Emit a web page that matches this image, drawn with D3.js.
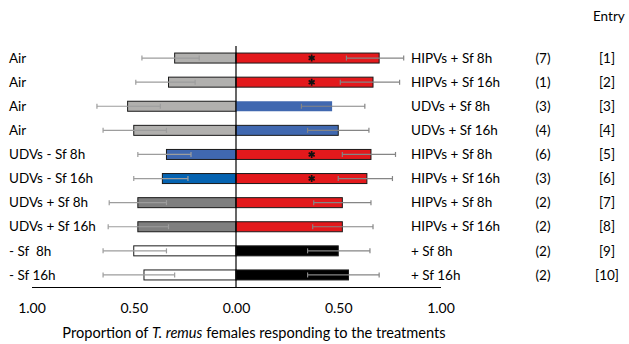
<!DOCTYPE html>
<html>
<head>
<meta charset="utf-8">
<script src="https://cdn.jsdelivr.net/npm/d3@7"></script>
<style>
  html, body { margin: 0; padding: 0; background: #fff; }
  svg { display: block; }
  text { font-family: Lato, "Open Sans", sans-serif; fill: #000; white-space: pre; }
</style>
</head>
<body>
<svg id="chart" width="629" height="344"></svg>
<script>
// Treatments paired in each two-choice test
const entries = ["[1]", "[2]", "[3]", "[4]", "[5]", "[6]", "[7]", "[8]", "[9]", "[10]"];
const leftLabels = ["Air", "Air", "Air", "Air", "UDVs - Sf 8h", "UDVs - Sf 16h",
                    "UDVs + Sf 8h", "UDVs + Sf 16h", "- Sf  8h", "- Sf 16h"];
const rightLabels = ["HIPVs + Sf 8h", "HIPVs + Sf 16h", "UDVs + Sf 8h", "UDVs + Sf 16h",
                     "HIPVs + Sf 8h", "HIPVs + Sf 16h", "HIPVs + Sf 8h", "HIPVs + Sf 16h",
                     "+ Sf 8h", "+ Sf 16h"];
const replicates = ["(7)", "(1)", "(3)", "(4)", "(6)", "(3)", "(2)", "(2)", "(2)", "(2)"];

// Proportion of females choosing each side
const leftValues  = [0.30, 0.33, 0.53, 0.50, 0.34, 0.36, 0.48, 0.48, 0.50, 0.45];
const rightValues = [0.70, 0.67, 0.47, 0.50, 0.66, 0.64, 0.52, 0.52, 0.50, 0.55];

// Confidence limits for each side
const leftLow   = [0.18, 0.20, 0.37, 0.34, 0.22, 0.235, 0.34, 0.33, 0.34, 0.30];
const leftHigh  = [0.46, 0.49, 0.68, 0.65, 0.48, 0.50, 0.62, 0.625, 0.65, 0.65];
const rightLow  = [0.54, 0.51, 0.32, 0.35, 0.52, 0.50, 0.38, 0.375, 0.35, 0.35];
const rightHigh = [0.82, 0.80, 0.63, 0.65, 0.78, 0.765, 0.66, 0.67, 0.655, 0.70];

// Significant preference
const significant = [true, true, false, false, true, true, false, false, false, false];

// Fill per side
const leftFill  = ["#b1b0ae", "#b1b0ae", "#b1b0ae", "#b1b0ae", "#4068b0", "#0563b1",
                   "#7f7f7f", "#7f7f7f", "#ffffff", "#ffffff"];
const rightFill = ["#e3191c", "#e3191c", "#4068b0", "#4068b0", "#e3191c", "#e3191c",
                   "#e3191c", "#e3191c", "#000000", "#000000"];
const rightStroke = [true, true, false, true, true, true, true, true, true, true];

const tickValues = [-1, -0.5, 0, 0.5, 1];
const axisTitle = "Proportion of ";

const svg = d3.select("#chart");
const width = 629, height = 344;
svg.append("rect").attr("width", width).attr("height", height).attr("fill", "#fff");

const x = d3.scaleLinear().domain([-1, 1]).range([31.5, 440.5]);
const y = d3.scaleBand().domain(entries).range([46, 287])
  .paddingInner(0.585).paddingOuter(0.2925);

const rows = entries.map((e, i) => ({
  entry: e, i,
  left: leftValues[i], right: rightValues[i],
  lLo: leftLow[i], lHi: leftHigh[i], rLo: rightLow[i], rHi: rightHigh[i]
}));

const plot = svg.append("g");

// Left bars (drawn toward negative)
plot.selectAll("rect.left").data(rows).join("rect")
  .attr("class", "left")
  .attr("x", d => x(-d.left))
  .attr("y", d => y(d.entry))
  .attr("width", d => x(0) - x(-d.left))
  .attr("height", y.bandwidth())
  .attr("fill", d => leftFill[d.i])
  .attr("stroke", "#1a1a1a")
  .attr("stroke-width", 1);

// Right bars
plot.selectAll("rect.right").data(rows).join("rect")
  .attr("class", "right")
  .attr("x", x(0))
  .attr("y", d => y(d.entry))
  .attr("width", d => x(d.right) - x(0))
  .attr("height", y.bandwidth())
  .attr("fill", d => rightFill[d.i])
  .attr("stroke", d => rightStroke[d.i] ? "#1a1a1a" : "none")
  .attr("stroke-width", 1);

// Error bars
function errorBar(sel, lo, hi, color) {
  const g = sel.append("g").attr("stroke", color).attr("stroke-width", 1.2);
  g.selectAll("line.span").data(rows).join("line")
    .attr("x1", d => x(lo(d))).attr("x2", d => x(hi(d)))
    .attr("y1", d => y(d.entry) + y.bandwidth() / 2)
    .attr("y2", d => y(d.entry) + y.bandwidth() / 2);
  [lo, hi].forEach(f => {
    g.selectAll(null).data(rows).join("line")
      .attr("x1", d => x(f(d))).attr("x2", d => x(f(d)))
      .attr("y1", d => y(d.entry) + y.bandwidth() / 2 - 2.5)
      .attr("y2", d => y(d.entry) + y.bandwidth() / 2 + 2.5);
  });
}
errorBar(plot, d => -d.lHi, d => -d.lLo, "#9d9d9d");
errorBar(plot, d => d.rLo, d => d.rHi, "#858585");

// Significance markers
const star = d3.symbol().type(d3.symbolAsterisk).size(34);
plot.selectAll("path.sig").data(rows.filter(d => significant[d.i])).join("path")
  .attr("class", "sig")
  .attr("d", star)
  .attr("transform", d => `translate(${x(0.37)},${y(d.entry) + y.bandwidth() / 2})`)
  .attr("fill", "none")
  .attr("stroke", "#111")
  .attr("stroke-width", 1.7);

// Center line
plot.append("line")
  .attr("x1", x(0)).attr("x2", x(0))
  .attr("y1", 46).attr("y2", 287)
  .attr("stroke", "#000").attr("stroke-width", 1.2);

// Bottom axis
const axis = svg.append("g")
  .attr("transform", "translate(0,287)")
  .call(d3.axisBottom(x).tickValues(tickValues).tickSize(0).tickSizeOuter(0).tickPadding(16)
    .tickFormat(d => Math.abs(d).toFixed(2)));
axis.select(".domain").attr("stroke", "#000").attr("stroke-width", 1.2);
axis.selectAll(".tick text")
  .style("font-family", "Lato, 'Open Sans', sans-serif")
  .attr("font-size", 14)
  .attr("fill", d => d < 0 ? "#000" : "#9a9a9a");

// Axis title
const title = svg.append("text")
  .attr("x", 254).attr("y", 338)
  .attr("text-anchor", "middle")
  .attr("font-size", 14.6);
title.append("tspan").text(axisTitle);
title.append("tspan").attr("font-style", "italic").text("T. remus");
title.append("tspan").text(" females responding to the treatments");

// Row labels
const labels = svg.append("g").attr("font-size", 13.5);
const cy = d => y(d.entry) + y.bandwidth() / 2;
labels.selectAll("text.l").data(rows).join("text")
  .attr("x", 9).attr("y", cy).attr("dy", "0.35em")
  .text(d => leftLabels[d.i]);
labels.selectAll("text.r").data(rows).join("text")
  .attr("x", 411).attr("y", cy).attr("dy", "0.35em")
  .text(d => rightLabels[d.i]);
labels.selectAll("text.n").data(rows).join("text")
  .attr("x", 543).attr("y", cy).attr("dy", "0.35em").attr("text-anchor", "middle")
  .text(d => replicates[d.i]);
labels.selectAll("text.e").data(rows).join("text")
  .attr("x", 607).attr("y", cy).attr("dy", "0.35em").attr("text-anchor", "middle")
  .text(d => d.entry);

svg.append("text").attr("x", 593).attr("y", 21).attr("font-size", 13.5).text("Entry");
</script>
</body>
</html>
